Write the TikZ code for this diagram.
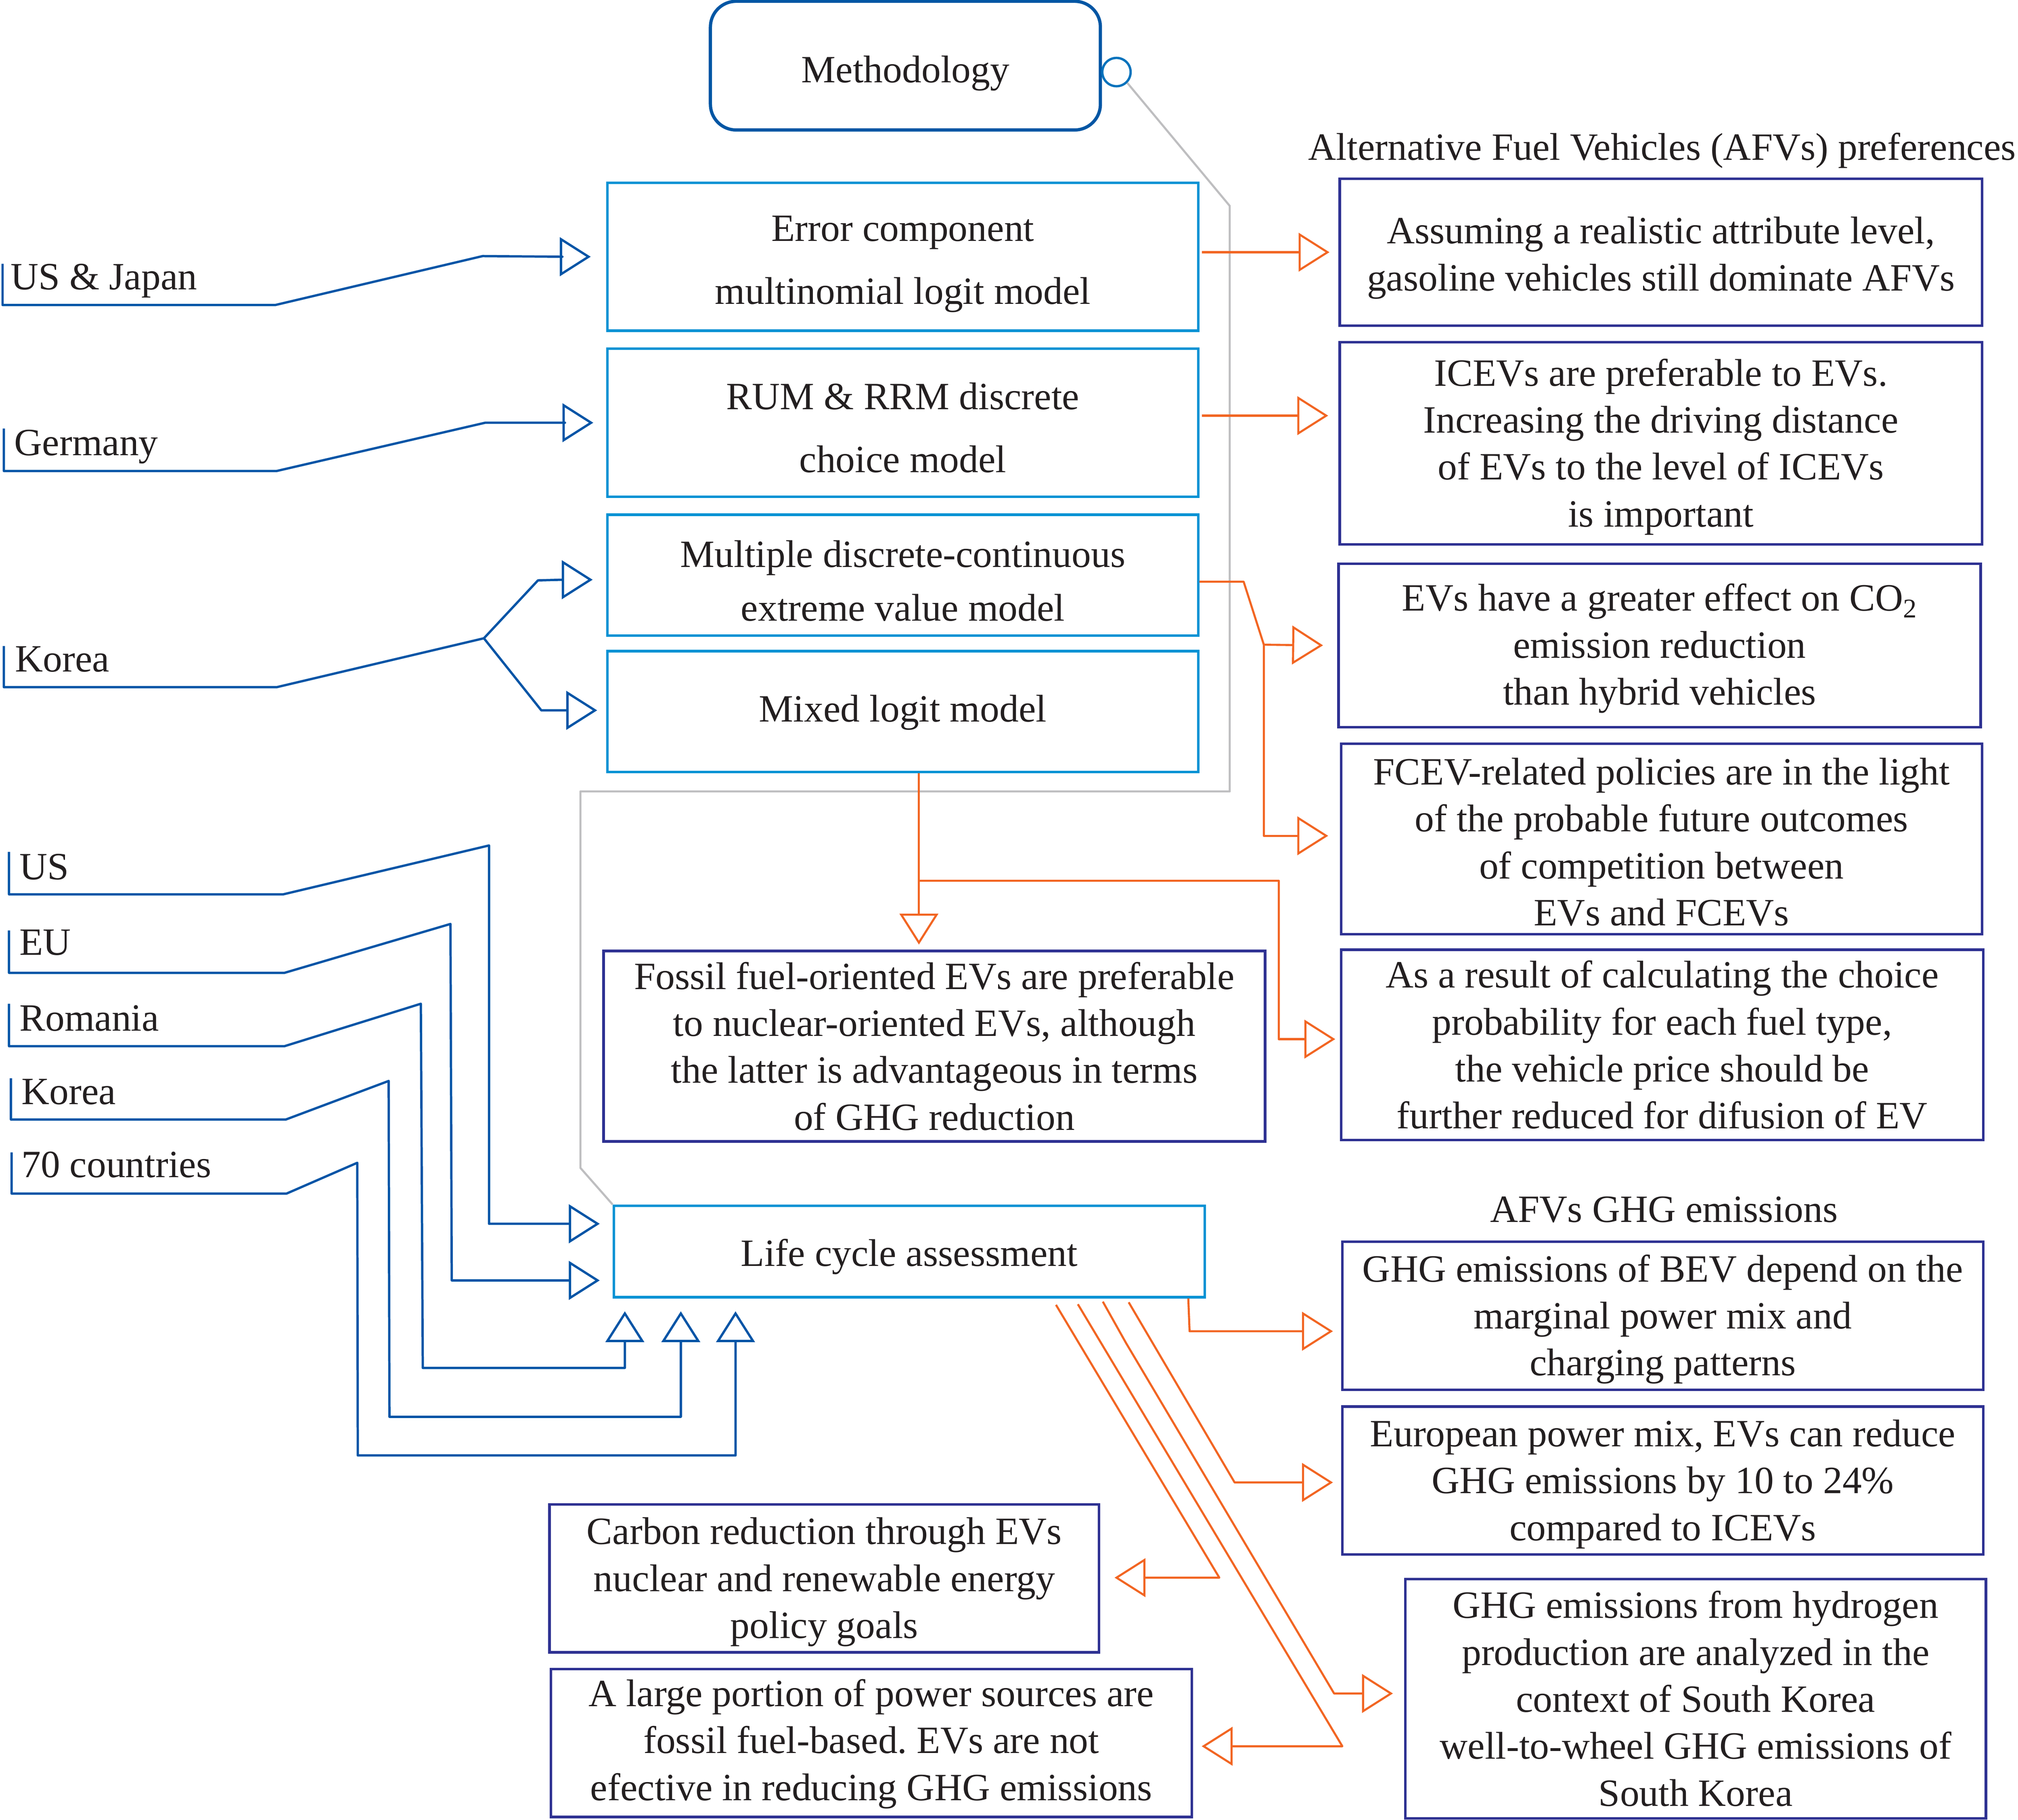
\documentclass[tikz,border=0pt]{standalone}
\usepackage{fontspec}
\setmainfont{Liberation Serif}
\usetikzlibrary{arrows.meta,calc}
\definecolor{methblue}{RGB}{0,86,164}
\definecolor{cyanbox}{RGB}{0,146,212}
\definecolor{navy}{RGB}{46,49,146}
\definecolor{orng}{RGB}{242,101,34}
\definecolor{grayline}{RGB}{190,190,192}
\definecolor{connblue}{RGB}{0,84,166}
\definecolor{circblue}{RGB}{0,114,188}
\definecolor{txt}{RGB}{35,31,32}
\newcommand\txtup[1]{\rule{0pt}{#1pt}}
\frenchspacing
\begin{document}
\begin{tikzpicture}[x=1pt,y=-1pt,
  every node/.style={text=txt, font=\fontsize{30}{36.5}\selectfont},
  mbox/.style={draw=cyanbox, line width=2pt, rectangle, inner sep=0pt, align=center},
  rbox/.style={draw=navy, line width=2pt, rectangle, inner sep=0pt, align=center},
  tipx/.style={-{Triangle[open,length=24pt,width=30pt]}},
  oconn/.style={draw=orng, line width=1.6pt, line join=round},
  bconn/.style={draw=connblue, line width=1.8pt, line join=round},
  gconn/.style={draw=grayline, line width=1.6pt, line join=round},
  lbl/.style={anchor=base west, inner sep=0pt},
]
\useasboundingbox (0,0) rectangle (1568,1414.3);

% ---------- nodes ----------
\node[draw=methblue, line width=2.5pt, rounded corners=20pt, minimum width=303pt, minimum height=100pt, inner sep=0pt, text height=26pt, text depth=0pt] (meth) at (703.5,51) {Methodology};
\node[circle, draw=circblue, line width=1.8pt, minimum size=22pt, inner sep=0pt] (dot) at (867.5,56) {};

\node[mbox, minimum width=459pt, minimum height=115pt] (m1) at (701.5,199.5) {\txtup{31.3}Error component\\[12.5pt] multinomial logit model};
\node[mbox, minimum width=459pt, minimum height=115pt] (m2) at (701.5,328.5) {\txtup{28.5}RUM \& RRM discrete\\[12.5pt] choice model};
\node[mbox, minimum width=459pt, minimum height=94pt] (m3) at (701.5,447) {\txtup{29.5}Multiple discrete-continuous\\[5.5pt] extreme value model};
\node[mbox, minimum width=459pt, minimum height=94pt] (m4) at (701.5,553) {\txtup{22}Mixed logit model};
\node[mbox, minimum width=459pt, minimum height=71pt] (lca) at (706.5,972.5) {\txtup{29.5}Life cycle assessment};

\node (h1) at (1291.5,114) {\txtup{26.8}Alternative Fuel Vehicles (AFVs) preferences};
\node (h2) at (1293,940) {AFVs GHG emissions};

\node[rbox, minimum width=499pt, minimum height=114pt] (r1) at (1290.5,196) {\txtup{29.7}Assuming a realistic attribute level,\\ gasoline vehicles still dominate AFVs};
\node[rbox, minimum width=499pt, minimum height=157pt] (r2) at (1290.5,344.5) {\txtup{26.5}ICEVs are preferable to EVs.\\ Increasing the driving distance\\ of EVs to the level of ICEVs\\ is important};
\node[rbox, minimum width=499pt, minimum height=127pt] (r3) at (1289.5,501.5) {\txtup{26}EVs have a greater effect on CO\textsubscript{2}\\ emission reduction\\ than hybrid vehicles};
\node[rbox, minimum width=498pt, minimum height=148pt] (r4) at (1291,652) {\txtup{25.5}FCEV-related policies are in the light\\ of the probable future outcomes\\ of competition between\\ EVs and FCEVs};
\node[rbox, minimum width=499pt, minimum height=148pt] (r5) at (1291.5,812) {As a result of calculating the choice\\ probability for each fuel type,\\ the vehicle price should be\\ further reduced for difusion of EV};
\node[rbox, minimum width=514pt, minimum height=148pt] (fb) at (726,813) {Fossil fuel-oriented EVs are preferable\\ to nuclear-oriented EVs, although\\ the latter is advantageous in terms\\ of GHG reduction};
\node[rbox, minimum width=498pt, minimum height=115pt] (r6) at (1292,1022.5) {\txtup{26.5}GHG emissions of BEV depend on the\\ marginal power mix and\\ charging patterns};
\node[rbox, minimum width=498pt, minimum height=115pt] (r7) at (1292,1150.5) {\txtup{26.5}European power mix, EVs can reduce\\ GHG emissions by 10 to 24\%\\ compared to ICEVs};
\node[rbox, minimum width=451pt, minimum height=186pt] (r8) at (1317.5,1320) {GHG emissions from hydrogen\\ production are analyzed in the\\ context of South Korea\\ well-to-wheel GHG emissions of\\ South Korea};
\node[rbox, minimum width=427pt, minimum height=115pt] (l1) at (640.5,1226.5) {\txtup{26.5}Carbon reduction through EVs\\ nuclear and renewable energy\\ policy goals};
\node[rbox, minimum width=498pt, minimum height=115pt] (l2) at (677,1354.5) {\txtup{22.5}A large portion of power sources are\\ fossil fuel-based. EVs are not\\ efective in reducing GHG emissions};

\node[lbl] (c1) at (8,225) {US \& Japan};
\node[lbl] (c2) at (11,354) {Germany};
\node[lbl] (c3) at (11.6,522) {Korea};
\node[lbl] (c4) at (15,683.5) {US};
\node[lbl] (c5) at (15,742) {EU};
\node[lbl] (c6) at (15,801) {Romania};
\node[lbl] (c7) at (16.5,858) {Korea};
\node[lbl] (c8) at (16.5,915) {70 countries};

% ---------- gray connector ----------
\draw[gconn] (dot.south east) -- (955.5,160) -- (955.5,615) -- (451,615) -- (451,907.6) -- (lca.north west);

% ---------- blue connectors ----------
\draw[bconn,tipx] ([xshift=-6pt,yshift=20pt]c1.base west) -- ++(0,32) -- (214,237) -- (375,199) -- (437,199.5) -- ([xshift=-12pt]m1.west);
\draw[bconn,tipx] ([xshift=-8pt,yshift=21pt]c2.base west) -- ++(0,33) -- (215,366) -- (377,328.5) -- (439,328.5) -- ([xshift=-10pt]m2.west);
\draw[bconn] ([xshift=-8.6pt,yshift=20pt]c3.base west) -- ++(0,32) -- (215,534) -- (376,496) coordinate (ksplit);
\draw[bconn,tipx] (ksplit) -- (418,451) -- (437,450.5) -- ([xshift=-10.5pt,yshift=-3.5pt]m3.west);
\draw[bconn,tipx] (ksplit) -- (420.6,552) -- (440.6,552) -- ([xshift=-7pt,yshift=1pt]m4.west);

\draw[bconn,tipx] ([xshift=-8pt,yshift=21.5pt]c4.base west) -- ++(0,33) -- (220,695) -- (380,657) -- (380,951) -- ([xshift=-10pt,yshift=21.5pt]lca.west);
\draw[bconn,tipx] ([xshift=-8pt,yshift=19pt]c5.base west) -- ++(0,33) -- (221,756) -- (350,718) -- (351,995) -- ([xshift=-10pt,yshift=-22.5pt]lca.west);
\draw[bconn,tipx] ([xshift=-8pt,yshift=21pt]c6.base west) -- ++(0,33) -- (221,813) -- (327,780) -- (328.5,1063) -- (485.5,1063) -- ([xshift=-221pt,yshift=-10pt]lca.south);
\draw[bconn,tipx] ([xshift=-8pt,yshift=20pt]c7.base west) -- ++(0,32) -- (222,870) -- (302,840) -- (302.6,1101) -- (529,1101) -- ([xshift=-177.5pt,yshift=-10pt]lca.south);
\draw[bconn,tipx] ([xshift=-7.5pt,yshift=19.5pt]c8.base west) -- ++(0,32) -- (222.7,927.5) -- (277.6,903.6) -- (278,1131) -- (571.5,1131) -- ([xshift=-135pt,yshift=-10pt]lca.south);

% ---------- orange connectors ----------
\draw[oconn,tipx] ([xshift=2pt]m1.east |- r1.west) -- ([xshift=-7pt]r1.west);
\draw[oconn,tipx] ([xshift=2pt,yshift=5.5pt]m2.east) -- ([xshift=-8pt,yshift=21.5pt]r2.west);
\draw[oconn] ([yshift=-5pt]m3.east) -- (966.3,452) -- (982,501) coordinate (osplit);
\draw[oconn,tipx] (osplit) -- ([xshift=-11pt]r3.west);
\draw[oconn,tipx] (osplit) -- (982,649.5) -- ([xshift=-9pt,yshift=2.5pt]r4.west);
\draw[oconn,tipx] ([xshift=12.5pt]m4.south) -- ([xshift=-12pt,yshift=4pt]fb.north);
\coordinate (obr) at (714,684.4);
\draw[oconn,tipx] (obr) -- (993.5,684.4) -- (993.5,807.5) -- ([xshift=-3.5pt,yshift=4.5pt]r5.west);

\draw[oconn,tipx] ([xshift=216.8pt]lca.south) -- (924.3,1034.5) -- ([xshift=-6.3pt,yshift=-12pt]r6.west);
\draw[oconn,tipx] ([xshift=170.5pt,yshift=-3pt]lca.south) -- (959.3,1152) -- ([xshift=-6.3pt,yshift=-1.5pt]r7.west);
\draw[oconn,tipx] ([xshift=150.4pt,yshift=-2.5pt]lca.south) -- (874.9,1043.6) -- (1036.6,1316) -- ([xshift=-8.7pt,yshift=4pt]r8.west);
\draw[oconn,tipx] ([xshift=131pt,yshift=-4.5pt]lca.south) -- (1043,1357) -- ([xshift=6.7pt,yshift=-2.5pt]l2.east);
\draw[oconn,tipx] ([xshift=114pt,yshift=-5pt]lca.south) -- (947.4,1226) -- ([xshift=11pt,yshift=0.5pt]l1.east);
\end{tikzpicture}
\end{document}
